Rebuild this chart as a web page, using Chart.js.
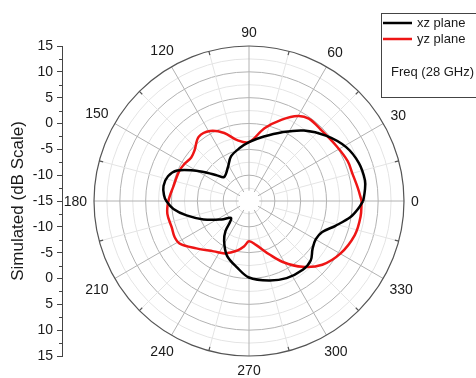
<!DOCTYPE html>
<html><head><meta charset="utf-8">
<script src="https://cdn.jsdelivr.net/npm/chart.js@4.4.1/dist/chart.umd.min.js"></script>
<style>html,body{margin:0;padding:0;background:#fff;}canvas{display:block;}</style>
</head><body>
<canvas id="c" width="476" height="378"></canvas>
<script>
// ---- data ----
const seriesNames = ['xz plane', 'yz plane'];
const legendNote = 'Freq (28 GHz)';
const axisTitle = 'Simulated (dB Scale)';
const angleLabels = [0, 30, 60, 90, 120, 150, 180, 210, 240, 270, 300, 330];
const radialTicks = [-15, -10, -5, 0, 5, 10, 15];

const xzAngles = [0, 5, 10, 19, 29, 40, 52, 65, 77, 90, 100, 112, 122, 136, 141, 146, 151, 157, 163, 170, 176, 180, 186, 193, 202, 214, 224, 232, 238, 248, 260, 270, 284, 296, 308, 316, 323, 330, 337, 344, 351, 356, 360];
const xzGain   = [7.1, 7.5, 7.8, 7.5, 6.5, 4.6, 2.3, -0.35, -2.2, -3.6, -4.6, -5.7, -7.3, -8.3, -7.2, -5.2, -2.8, 0.1, 1.4, 1.8, 1.5, 1.0, -0.3, -2.6, -5.5, -8.6, -10.2, -7.6, -5.9, -3.6, -1.9, -0.2, 0.85, 1.6, 1.9, 1.6, 0.4, -0.1, 0.4, 2.4, 4.9, 6.2, 7.1];

const yzAngles = [0, 7, 15, 22, 32, 45, 54, 60, 68, 78, 90, 101, 110, 119, 128, 137, 143, 150, 157, 169, 180, 189, 199, 206, 212, 222, 235, 245, 250, 257, 264, 270, 279, 291, 299, 309, 319, 330, 342, 352, 360];
const yzGain   = [6.8, 6.2, 5.7, 5.6, 5.0, 4.6, 4.7, 4.0, 2.0, -0.6, -3.6, -3.0, -1.0, 0.5, 0.8, -0.6, -1.0, -0.6, -0.3, -0.1, 0.6, 1.0, 0.8, 1.0, 0.7, -1.3, -3.1, -3.8, -4.4, -5.2, -6.2, -7.2, -6.4, -3.9, -1.5, 1.4, 3.8, 5.4, 6.5, 6.8, 6.8];

const seriesColors = ['#000000', '#ee1515'];

// ---- helpers ----
const R_MIN = radialTicks[0], R_MAX = radialTicks[radialTicks.length - 1];
const SPAN = R_MAX - R_MIN;
function toXY(angles, gains) {
  return angles.map((a, i) => {
    const r = gains[i] - R_MIN, t = a * Math.PI / 180;
    return { x: r * Math.cos(t), y: r * Math.sin(t) };
  });
}
const FONT = "'Liberation Sans', Arial, sans-serif";

// layout: plot centre (249,201), radius 155 px, axis line at x=62
const W = 476, H = 378, AX_LEFT = 62, CX = 249, RADPX = 155, PAD_TOP = 46, PAD_BOTTOM = H - (201 + RADPX);
const pxPerUnit = RADPX / SPAN;
const xMin = -SPAN - (CX - RADPX - AX_LEFT) / pxPerUnit;
const xMax = SPAN + (W - (CX + RADPX)) / pxPerUnit;

const polarGrid = {
  id: 'polarGrid',
  beforeDatasetsDraw(chart) {
    const ctx = chart.ctx, xs = chart.scales.x, ys = chart.scales.y;
    const cx = xs.getPixelForValue(0), cy = ys.getPixelForValue(0);
    const rOf = db => xs.getPixelForValue(db - R_MIN) - cx;
    const R = rOf(R_MAX);
    ctx.save();
    // rings
    for (let db = R_MIN + 2.5; db < R_MAX - 0.01; db += 2.5) {
      const major = Math.abs(((db - R_MIN) / 5) - Math.round((db - R_MIN) / 5)) < 1e-6;
      ctx.strokeStyle = major ? '#b2b2b2' : '#e4e4e4';
      ctx.lineWidth = 1;
      ctx.beginPath(); ctx.arc(cx, cy, rOf(db), 0, 2 * Math.PI); ctx.stroke();
    }
    // minor spokes (15 deg offsets)
    const rInner = rOf(R_MIN + 10 / 5 * 1);
    for (let a = 15; a < 360; a += 30) {
      const t = a * Math.PI / 180, r0 = rOf(R_MIN + 5);
      ctx.strokeStyle = '#e4e4e4'; ctx.lineWidth = 1;
      ctx.beginPath();
      ctx.moveTo(cx + r0 * Math.cos(t), cy - r0 * Math.sin(t));
      ctx.lineTo(cx + R * Math.cos(t), cy - R * Math.sin(t));
      ctx.stroke();
    }
    // major spokes
    angleLabels.forEach(a => {
      const t = a * Math.PI / 180;
      ctx.strokeStyle = '#b2b2b2'; ctx.lineWidth = 1;
      ctx.beginPath();
      ctx.moveTo(cx + rInner * Math.cos(t), cy - rInner * Math.sin(t));
      ctx.lineTo(cx + R * Math.cos(t), cy - R * Math.sin(t));
      ctx.stroke();
    });
    // outer ring
    ctx.strokeStyle = '#555555'; ctx.lineWidth = 1.2;
    ctx.beginPath(); ctx.arc(cx, cy, R, 0, 2 * Math.PI); ctx.stroke();
    // outer minor ticks
    for (let a = 15; a < 360; a += 30) {
      const t = a * Math.PI / 180;
      ctx.beginPath();
      ctx.moveTo(cx + R * Math.cos(t), cy - R * Math.sin(t));
      ctx.lineTo(cx + (R - 4) * Math.cos(t), cy - (R - 4) * Math.sin(t));
      ctx.stroke();
    }
    ctx.restore();
  },
  afterDraw(chart) {
    const ctx = chart.ctx, xs = chart.scales.x, ys = chart.scales.y;
    const cx = xs.getPixelForValue(0), cy = ys.getPixelForValue(0);
    const R = xs.getPixelForValue(SPAN) - cx;
    ctx.save();
    // angle labels
    ctx.font = '14px ' + FONT;
    ctx.fillStyle = '#1a1a1a';
    ctx.textAlign = 'center'; ctx.textBaseline = 'middle';
    angleLabels.forEach(a => {
      const t = a * Math.PI / 180, txt = String(a);
      const w = ctx.measureText(txt).width, h = 14;
      const d = R + 7 + Math.abs(Math.cos(t)) * w / 2 + Math.abs(Math.sin(t)) * h / 2;
      ctx.fillText(txt, cx + d * Math.cos(t), cy - d * Math.sin(t) + 1);
    });
    // minor ticks on left axis
    const left = chart.chartArea.left;
    ctx.strokeStyle = '#444'; ctx.lineWidth = 1;
    for (let v = -SPAN + 2.5; v < SPAN; v += 5) {
      const y = Math.round(ys.getPixelForValue(v)) + 0.5;
      ctx.beginPath(); ctx.moveTo(left - 3, y); ctx.lineTo(left, y); ctx.stroke();
    }
    // legend box
    const bx = 381.5, by = 13.5;
    ctx.strokeStyle = '#444'; ctx.lineWidth = 1;
    ctx.strokeRect(bx, by, 110, 84);
    ctx.font = '13px ' + FONT;
    ctx.textAlign = 'left'; ctx.textBaseline = 'middle';
    chart.data.datasets.forEach((ds, i) => {
      const y = 23 + i * 16;
      ctx.strokeStyle = ds.borderColor; ctx.lineWidth = 2.5;
      ctx.beginPath(); ctx.moveTo(383, y); ctx.lineTo(412, y); ctx.stroke();
      ctx.fillStyle = '#1a1a1a';
      ctx.fillText(ds.label, 417, y);
    });
    ctx.fillText(legendNote, 391, 72);
    ctx.restore();
  }
};

new Chart(document.getElementById('c'), {
  type: 'scatter',
  data: {
    datasets: [
      { label: seriesNames[0], data: toXY(xzAngles, xzGain), borderColor: seriesColors[0], backgroundColor: seriesColors[0],
        showLine: true, pointRadius: 0, borderWidth: 2.5, tension: 0.35, fill: false },
      { label: seriesNames[1], data: toXY(yzAngles, yzGain), borderColor: seriesColors[1], backgroundColor: seriesColors[1],
        showLine: true, pointRadius: 0, borderWidth: 2.5, tension: 0.35, fill: false }
    ]
  },
  options: {
    responsive: false, animation: false, devicePixelRatio: 1,
    layout: { padding: { left: 0, right: 0, top: PAD_TOP, bottom: PAD_BOTTOM } },
    plugins: { legend: { display: false }, tooltip: { enabled: false } },
    scales: {
      x: { type: 'linear', display: false, min: xMin, max: xMax },
      y: {
        type: 'linear', position: 'left', min: -SPAN, max: SPAN,
        afterFit(scale) { scale.width = AX_LEFT; },
        ticks: {
          stepSize: 5, padding: 4, color: '#1a1a1a', font: { size: 14, family: FONT },
          callback: v => String(Math.abs(v) + R_MIN)
        },
        grid: { drawOnChartArea: false, drawTicks: true, tickLength: 5, tickColor: '#444', tickWidth: 1 },
        border: { display: true, color: '#444', width: 1 },
        title: { display: true, text: axisTitle, color: '#1a1a1a', font: { size: 17, family: FONT }, padding: { top: 8, bottom: 0 } }
      }
    }
  },
  plugins: [polarGrid]
});
</script>
</body></html>
